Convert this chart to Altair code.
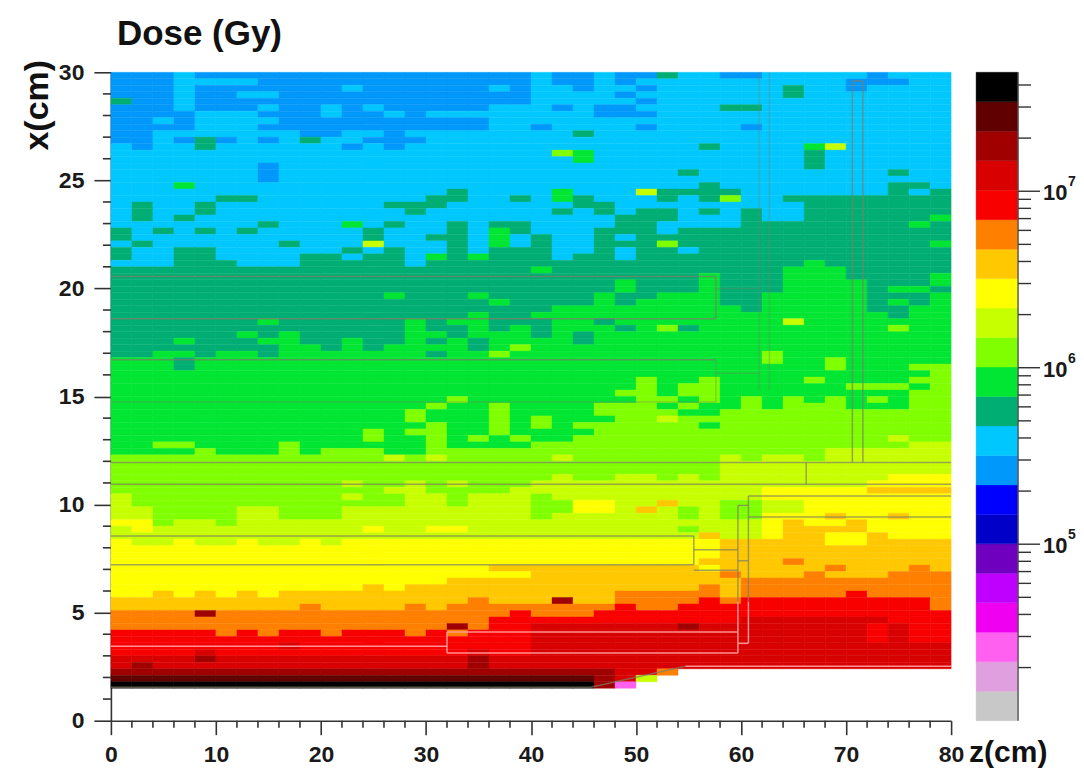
import altair as alt
import pandas as pd

# Colour levels, bottom of the colour bar to the top
LEVEL_CODES = list("01pmvuBbactglyYoOrRdDk")
LEVEL_COLORS = ["#c8c8c8", "#e0a0e0", "#ff60f0", "#f000f0", "#c000ff", "#7000c0", "#0000c8", "#0000ff",
                "#0098fa", "#00c8ff", "#00ae74", "#00e632", "#80ff00", "#c8ff00", "#ffff00", "#ffc800",
                "#ff8000", "#f80000", "#d80000", "#a00000", "#600000", "#000000"]
LEVEL_EXP = [4.000, 4.167, 4.334, 4.501, 4.668, 4.835, 5.002, 5.169, 5.336, 5.503, 5.670, 5.837,
             6.004, 6.171, 6.338, 6.505, 6.672, 6.839, 7.006, 7.173, 7.340, 7.507, 7.674]

# Dose map: top row (x = 29.7-30 cm) first, each cell 2 cm wide in z and 0.3 cm high in x
MAP_ROWS = [
"aaaca aaaaa aaaaa aaaaa caaca atcca acccc caccc",
"aaacc ccaaa aaaaa aaaaa caaca ccccc ccccc aaacc",
"aaaca aaaaa acaaa aaaca ccacc acccc cctcc acccc",
"aaaca accaa aaaaa aaaaa cccca ccccc cctcc ccccc",
"taaca aaaaa aaaaa aaaaa ccccc acccc ccccc ccccc",
"aaaca aacaa cacaa aaacc cacaa cccct tcccc ccccc",
"aaaac ccaaa caaca ccccc cccaa acccc ccccc ccccc",
"aacac cccaa aaaaa aaacc ccccc ccccc ccccc ccccc",
"aaaac ccaaa aaaaa aaacc acccc acccc acccc ccccc",
"aaccc cccca accac ccccc cctcc ccccc ccccc ccccc",
"aacat acact ccaaa ccccc ccccc ccccc ccccc ccccc",
"cacct ccccc cacac ccccc ccccc ccctc cccgy ccccc",
"ccccc ccccc ccccc ccccc clgcc ccccc ccctc ccccc",
"ccccc ccccc ccccc ccccc ccgcc ccccc ccctc ccccc",
"ccccc ccacc ccccc ccccc ccccc ccccc ccctc ccccc",
"ccccc ccacc ccccc ccccc ccccc cctcc ccccc cctcc",
"ccccc ccacc ccccc ccccc ccccc ccccc ccccc ccccc",
"cccgc ccccc ccccc ccccc ccccc ccctc ccccc ccttc",
"ccccc ccccc ccccc ctccc cgccc ytttt ccccc cctct",
"ccccc ttccc ccccc ttcct cgtcc ctctl ccttt ttttt",
"ctcct ccccc ccctt tcccc ccttc ccccc ccctt ttttt",
"ctcct ccccc cccct ccccc ctctc ttctc tcctt ttttt",
"ctctc ccccc ccccc ccccc cccct ttccc tcctt ttttg",
"ccccc cctcc cgctc ctctt cccct tcccc ttttt tttgt",
"tctct ctccc cctcc ctcgt ccctt tcttt ttttt ttttt",
"tcccc ccccc cctcc ttcgc tcctc ttttt ttttt ttttt",
"ctccc ccctc ccycc ctcgc tcctt tlttt ttttt ttttg",
"tcctt ccccc ctctc ctctt tcctc ttctt ttttt ttttt",
"tcctt cccct tcttc gtgtt tcttc ttttt ttttt ttttt",
"ccctt tccct ttttc ttttt ttttt ttttt tttgt ttttt",
"ttttt ttttt ttttt ttttt gtttt ttttt ttggg ttttt",
"ttttt ttttt ttttt ttttt ttttt tttgt ttggg ttttg",
"ttttt ttttt ttttt ttttt ttttg tttgt ttggg gtttg",
"ttttt ttttt ttttt ttttt ttttg tttgt ttggg gtggt",
"ttttt ttttt tttgt ttgtt tttgt tgggt tgggg gtttg",
"ttttt ttttt ttttt tttgt tttgt ggggt tgggg gtgtg",
"ttttt ttttt ttttt ttttt tgggg ggggg tgggg gttgg",
"ttttt ttttt ttttt ttgtt ggggg ggggg ggggg ggtgg",
"ttttt ttgtt ttttg tggtt tggtg ggggg ggygg ggggg",
"ttttt ttttt ttttg ttgtg tgggt gltgg ggggg gglgg",
"ttttt tgtgt ttttg gtggg tgtgg ggggg ggggg ggggg",
"tttgt ttggt tgttg tgtgg ggtgg ggggg ggggg ggggg",
"ttttt tttgg tgtgg ggtgl ggggg ggggg ggggg ggggg",
"ttggt ggtgg ggggg tgglg ggggg ggggg glggg ggggg",
"gggtg ggggg ggggg ggggg ggggg ggggg glggl ggggg",
"gggtg ggggg ggggg ggggg ggggg ggggg ggggl gggll",
"ggggg ggggg ggggg ggggg ggggg ggggg ggggg ggggl",
"ggggg ggggg ggggg ggggg ggggg lgglg ggglg gggll",
"ggggg ggggg ggggg ggggg ggggg lgllg ggggg lllgl",
"ggggg ggggg ggggg ggggg ggggl lgllg ggggg gggll",
"ggggg ggggg ggggg glggg ggggg llglg lglgl glgll",
"ggggg ggggg ggggg lgglg gggll lglgg lglll gggll",
"ggggg ggggg ggggl ggglg gggll llggl lllll lllll",
"ggggg ggggg ggggl ggglg lgggl lylll lllll lllll",
"ggggg ggggg ggggg lgglg lglll lllgl lllll lllll",
"ggggg ggggg gglgl lgglg gggll lllll lllll lllll",
"ggggg ggggg gglgg lglgl gglll lllll lllll llyll",
"ggllg ggglg ggggg lgggg lllll lllll lllll lllyy",
"ggggl ggglg lllgg lllll lllll lllll lllly yyyyy",
"lllll lllll lllyl yllll lylll lllly lyyly yyyyy",
"lllll lllll lllll lllll lllll lllly yyyyy yyyyy",
"lllll lllll lllll lllll lllll lllly yyyyy yyyyy",
"lllll lllll lllll lllll lylly ylyly yyyyy yyYYY",
"lllll lllll lylly lylll yyyyy yyyyy yyyyy yYYYY",
"lllll lllll lllyy lllly yyyyy yyyyy yYYYY Yoooo",
"yllll lllll lylly ylyyy lyyyy yyyyy yYYYY YYYYY",
"yllll lllll lllly ylyyy llYYy yoyyl lyyYY YYYYY",
"yylll lyyll lyyyy yyyyy llYYy oylyl lyyYY YYYYY",
"yylll lyyll lyyyy yyyyy lyyyy yylyl lYYYo YYoYY",
"YYlyy lyyyy yyyyy yyyyy yyyyy yyyyy yYoYY oYYYY",
"yYyyy yyyyy yyYyy YYyyy yyyyy yylyy yYooo oYYYY",
"yyyyy yyyyy yyyyy yyyyy yyyyy yyyoy yYooY YoYYY",
"YyyYy yYyyY yYYYY YYYYY YYYYY YYYYo ooooY Yoooo",
"YYYYY YYYYY YYYYY YYYYY YYYYY YYYYo ooooo ooooo",
"YYYYY YYYYY YYYYY YYYYY YYYYY YYYYo ooooo ooooo",
"YYYYY YYYYY YYYYY YYYYY YYYYY YYYoo ooOoo ooooo",
"YYYYY YYYYY YYYYY YYYoo ooooo oooYo ooooO oooOo",
"YYYYY YYYYY YYYYY YYYYY ooooo ooooO oooOo ooOOO",
"YYYYY YYYYY YYYYY Yoooo ooooo ooooo OOOOO OOOOO",
"YYYYY YYYYY YYoYo ooooo ooooo oooOo OOOOO OOOOO",
"YYoYo YoYoo ooooo ooooo ooooO OOOOo OOOOO rOOOO",
"ooooo ooooo ooooo ooOoo odooO OOOrO rrrrr rrrrO",
"ooooo ooooO ooooO oOOOO OOOOr OOrrr rrrrr rrrrO",
"OOOOd OOOOO OOOOO OOOOr OOOrr rrrrr rrrrr rrrrr",
"OOOOO OOOOO OOOOO OOOrr rrrrr rrrrr RRRRR RRrrr",
"OOOOO OOOOO OOOOO OdOrr RRRRR RRdRR RRRRR RrRrr",
"rrrrr OrOrr OrrrO rOrrr RRRRR RRRRR RRRRR RrRrr",
"rrrrr rrrrr rrrrr rrrrr RRRRR RRRRR RRRRR RrRrr",
"rrrrr rrrRr rrrrr rrrrr RRRRR RRRRR RRRRR RRRRR",
"rrrrR rrrrr rrrrr rrRrr RRRRR RRRRR RRRRR RRRRR",
"RRRRd RRRRR RRRRR RRdRR RRRRR RRRRR RRRRR RRRRR",
"RdRRR RRRRR RRRRR RRdRR RRRRR RRRRR RRRRR RRRRR",
"ddddd ddddd ddddd ddddd ddddR RO... ..... .....",
"DDDDD DDDDD DDDDD DDDDD DDDdR y.... ..... .....",
"kkkkk kkkkk kkkkk kkkkk kkkdp ..... ..... .....",
]

# Geometry outlines in cm: z1, x1, z2, x2
GREY_SEGMENTS = [
    (0, 20.55, 57.6, 20.55), (0, 18.6, 57.6, 18.6), (0, 16.7, 57.6, 16.7),
    (57.6, 20.55, 57.6, 18.6),
    (70.6, 29.6, 70.6, 11.95), (71.6, 29.6, 71.6, 11.95), (70.6, 29.6, 71.6, 29.6),
    (0, 11.95, 80, 11.95), (0, 10.94, 80, 10.94), (66.2, 10.94, 66.2, 11.95),
    (60.7, 10.4, 80, 10.4), (60.7, 9.42, 80, 9.42),
    (0, 8.55, 55.5, 8.55), (0, 7.22, 55.5, 7.22), (55.5, 7.22, 55.5, 8.55),
    (55.5, 7.91, 59.7, 7.91), (55.5, 6.96, 59.7, 6.96), (59.7, 7.4, 60.7, 7.4),
    (59.7, 9.96, 60.7, 9.96), (59.7, 9.96, 59.7, 5.5), (60.7, 10.4, 60.7, 5.5),
    (45.7, 1.55, 54.7, 2.52), (0, 1.55, 45.7, 1.55),
]
FAINT_SEGMENTS = [
    (57.6, 16.7, 57.6, 14.74), (0, 14.74, 57.6, 14.74),
    (57.6, 20.0, 61.7, 20.0), (57.6, 16.07, 61.7, 16.07),
    (61.7, 30, 61.7, 15.3), (62.7, 30, 62.7, 15.3),
]
LIGHT_SEGMENTS = [
    (59.7, 5.5, 59.7, 3.13), (60.7, 5.5, 60.7, 3.58), (59.7, 3.58, 60.7, 3.58),
    (0, 3.44, 32, 3.44), (32, 3.13, 32, 4.1), (32, 4.1, 59.7, 4.1), (32, 3.13, 59.7, 3.13),
    (54.7, 2.52, 80, 2.52),
]

Z_TICKS = [0, 10, 20, 30, 40, 50, 60, 70, 80]
X_TICKS = [0, 5, 10, 15, 20, 25, 30]
Z_MINOR = [z for z in range(0, 81, 2) if z % 10]
X_MINOR = [x for x in range(0, 31) if x % 5]
BAR_MINOR = [2e4, 3e4, 4e4, 5e4, 6e4, 7e4, 8e4, 9e4, 2e5, 3e5, 4e5, 5e5, 6e5, 7e5, 8e5, 9e5,
             2e6, 3e6, 4e6, 5e6, 6e6, 7e6, 8e6, 9e6, 2e7, 3e7, 4e7]
BAR_MAJOR = [1e5, 1e6, 1e7]
BAR_EXP_TEXT = ["5", "6", "7"]

FONT = "Liberation Sans"
W, H = 841, 649

cells = []
for t, row in enumerate(MAP_ROWS):
    row = row.replace(" ", "")
    if len(row) != 40:
        raise ValueError(f"row {t} has {len(row)} cells")
    for c, code in enumerate(row):
        if code != ".":
            r = 99 - t
            cells.append({"z": c * 2, "z2": c * 2 + 2, "x": round(r * 0.3, 2), "x2": round((r + 1) * 0.3, 2), "level": code})
cells = pd.DataFrame(cells)

level_scale = alt.Scale(domain=LEVEL_CODES, range=LEVEL_COLORS)
zs = alt.Scale(domain=[0, 80], nice=False, zero=False)
xs = alt.Scale(domain=[0, 30], nice=False, zero=False)

axis_style = dict(domainColor="#333333", domainWidth=1.6, tickColor="#333333", tickWidth=1.6, grid=False,
                  labelFont=FONT, labelFontWeight="bold", labelFontSize=23, labelColor="#1a1a1a",
                  labelFlush=False, labelBound=False, labelOverlap=False, format="d")

heat = alt.Chart(cells).mark_rect(strokeWidth=0.4).encode(
    x=alt.X("z:Q", scale=zs, title=None,
            axis=alt.Axis(values=Z_TICKS, tickSize=14, labelPadding=9, **axis_style)),
    x2="z2:Q",
    y=alt.Y("x:Q", scale=xs, title=None,
            axis=alt.Axis(values=X_TICKS, tickSize=17, labelPadding=10, **axis_style)),
    y2="x2:Q",
    color=alt.Color("level:N", scale=level_scale, legend=None),
    stroke=alt.Stroke("level:N", scale=level_scale, legend=None),
)


def seg_layer(segments, color, opacity):
    df = pd.DataFrame(segments, columns=["z1", "x1", "z2", "x2"])
    return alt.Chart(df).mark_rule(color=color, opacity=opacity, strokeWidth=1.5).encode(
        x=alt.X("z1:Q", scale=zs), x2="z2:Q", y=alt.Y("x1:Q", scale=xs), y2="x2:Q")


grey_lines = seg_layer(GREY_SEGMENTS, "#7d7d6a", 0.7)
faint_lines = seg_layer(FAINT_SEGMENTS, "#7d7d6a", 0.35)
light_lines = seg_layer(LIGHT_SEGMENTS, "#ff9a9a", 0.95)

z_minor = alt.Chart(pd.DataFrame({"z": Z_MINOR})).mark_rule(color="#333333", strokeWidth=1.6).encode(
    x=alt.X("z:Q", scale=zs), y=alt.value(H), y2=alt.value(H + 7))
x_minor = alt.Chart(pd.DataFrame({"x": X_MINOR})).mark_rule(color="#333333", strokeWidth=1.6).encode(
    y=alt.Y("x:Q", scale=xs), x=alt.value(0), x2=alt.value(-8))

title_txt = alt.Chart(pd.DataFrame({"t": ["Dose (Gy)"]})).mark_text(
    font=FONT, fontWeight="bold", fontSize=35, align="left", baseline="middle", color="#111111").encode(
    text="t:N", x=alt.value(6), y=alt.value(-38))
xlab_txt = alt.Chart(pd.DataFrame({"t": ["x(cm)"]})).mark_text(
    font=FONT, fontWeight="bold", fontSize=34, align="center", baseline="middle", angle=270, color="#111111").encode(
    text="t:N", x=alt.value(-73), y=alt.value(33))

main = alt.layer(heat, grey_lines, faint_lines, light_lines, z_minor, x_minor, title_txt, xlab_txt).properties(width=W, height=H)

# Colour bar
bar_df = pd.DataFrame({
    "level": LEVEL_CODES,
    "lo": [10 ** e for e in LEVEL_EXP[:-1]],
    "hi": [10 ** e for e in LEVEL_EXP[1:]],
})
ys = alt.Scale(type="log", domain=[10 ** LEVEL_EXP[0], 10 ** LEVEL_EXP[-1]], nice=False)
BAR_W = 42

bar = alt.Chart(bar_df).mark_rect(strokeWidth=0.4).encode(
    x=alt.value(0), x2=alt.value(BAR_W),
    y=alt.Y("lo:Q", scale=ys, axis=None), y2="hi:Q",
    color=alt.Color("level:N", scale=level_scale, legend=None),
    stroke=alt.Stroke("level:N", scale=level_scale, legend=None),
)
edge = alt.Chart(pd.DataFrame({"lo": [10 ** LEVEL_EXP[0]], "hi": [10 ** LEVEL_EXP[-1]]})).mark_rule(
    color="#555555", strokeWidth=1.4).encode(
    x=alt.value(BAR_W), y=alt.Y("lo:Q", scale=ys, axis=None), y2="hi:Q")
minor = alt.Chart(pd.DataFrame({"v": BAR_MINOR})).mark_rule(color="#333333", strokeWidth=1.4).encode(
    x=alt.value(BAR_W), x2=alt.value(BAR_W + 13), y=alt.Y("v:Q", scale=ys, axis=None))
major = alt.Chart(pd.DataFrame({"v": BAR_MAJOR})).mark_rule(color="#333333", strokeWidth=1.4).encode(
    x=alt.value(BAR_W), x2=alt.value(BAR_W + 22), y=alt.Y("v:Q", scale=ys, axis=None))
labels_df = pd.DataFrame({"v": BAR_MAJOR, "e": BAR_EXP_TEXT, "ten": ["10"] * 3})
ten = alt.Chart(labels_df).mark_text(
    font=FONT, fontWeight="bold", fontSize=22, align="left", baseline="middle", color="#1a1a1a", dy=2).encode(
    text="ten:N", x=alt.value(BAR_W + 25), y=alt.Y("v:Q", scale=ys, axis=None))
sup = alt.Chart(labels_df).mark_text(
    font=FONT, fontWeight="bold", fontSize=14, align="left", baseline="middle", color="#1a1a1a", dy=-9).encode(
    text="e:N", x=alt.value(BAR_W + 50), y=alt.Y("v:Q", scale=ys, axis=None))
zlab = alt.Chart(pd.DataFrame({"t": ["z(cm)"]})).mark_text(
    font=FONT, fontWeight="bold", fontSize=30, align="left", baseline="middle", color="#111111").encode(
    text="t:N", x=alt.value(-7), y=alt.value(H + 32))

colorbar = alt.layer(bar, edge, minor, major, ten, sup, zlab).properties(width=BAR_W, height=H)

chart = alt.hconcat(main, colorbar, spacing=5).configure_view(stroke=None).properties(
    padding={"left": 12, "top": 9, "right": 0, "bottom": 0}, background="white")

chart.save("out.html", embed_options={"renderer": "svg", "actions": False})
